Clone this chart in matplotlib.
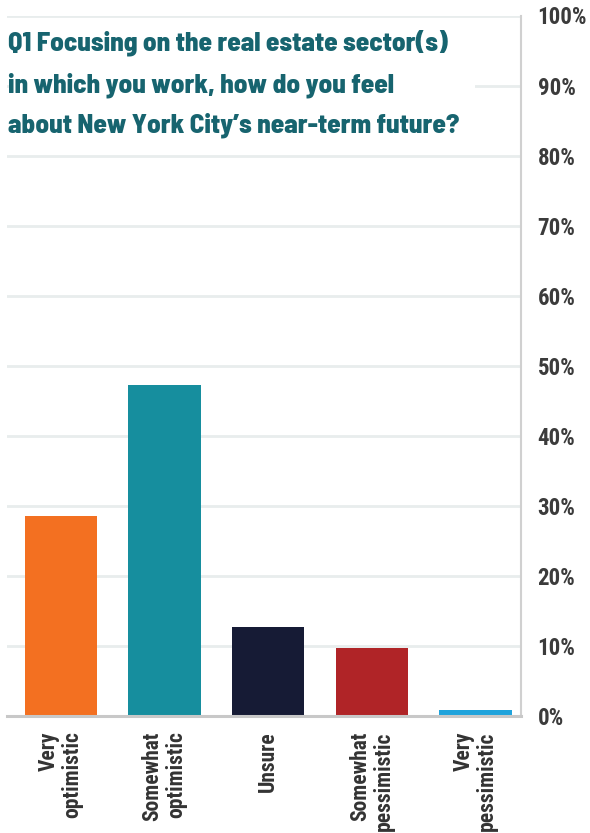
import matplotlib
matplotlib.use("Agg")
import matplotlib.pyplot as plt
from matplotlib.patches import Rectangle
from matplotlib.ticker import FuncFormatter

categories = ["Very\noptimistic", "Somewhat\noptimistic", "Unsure",
              "Somewhat\npessimistic", "Very\npessimistic"]
values = [28.6, 47.2, 12.7, 9.7, 0.8]
colors = ["#F37021", "#168E9E", "#161B35", "#B02427", "#1FA3DC"]
yticks = [0, 10, 20, 30, 40, 50, 60, 70, 80, 90, 100]
title_lines = ["Q1 Focusing on the real estate sector(s)",
               "in which you work, how do you feel",
               "about New York City\u2019s near-term future?"]

W, H = 590, 833
fig = plt.figure(figsize=(W / 100, H / 100), dpi=100)

# axes box in pixels: left 7, right 521, top 15.5, bottom 716
ax = fig.add_axes([7 / W, 1 - 716 / H, (521 - 7) / W, (716 - 15.5) / H])

ax.bar(range(len(values)), values, width=0.7, color=colors, zorder=2)

ax.set_xlim(-0.52, 4.44)
ax.set_ylim(0, 100)
ax.set_yticks(yticks)
ax.yaxis.set_major_formatter(FuncFormatter(lambda v, p: "%d%%" % v))
ax.yaxis.tick_right()
ax.grid(axis="y", color="#e8eded", linewidth=2, zorder=0)
ax.set_axisbelow(True)

for s in ["top", "left"]:
    ax.spines[s].set_visible(False)
ax.spines["right"].set_color("#d0d0d0")
ax.spines["right"].set_linewidth(1.5)
ax.spines["bottom"].set_color("#c8c8c8")
ax.spines["bottom"].set_linewidth(2.2)

ax.tick_params(axis="y", length=0, pad=12, labelsize=16.5, labelcolor="#3b3b3b")
ax.tick_params(axis="x", length=0, pad=11)
for lab in ax.get_yticklabels():
    lab.set_fontfamily("Roboto Condensed")
    lab.set_fontweight("bold")

ax.set_xticks(range(len(categories)))
ax.set_xticklabels(categories, rotation=90, ha="center", va="top",
                   multialignment="right", fontsize=15.5, fontweight="bold",
                   fontfamily="Roboto Condensed", color="#333333",
                   linespacing=1.1)

# white box behind the title, hides the gridline under it
fig.patches.append(Rectangle((11 / W, 1 - 140 / H), 464 / W, 112 / H,
                             transform=fig.transFigure, facecolor="white",
                             edgecolor="none", zorder=1))

baselines = [51, 93, 132]
for line, yb in zip(title_lines, baselines):
    fig.text(8 / W, 1 - yb / H, line, ha="left", va="baseline",
             fontsize=19.5, fontweight=800, fontfamily="Barlow Semi Condensed",
             color="#17646F", zorder=3)

fig.savefig("out.png", dpi=100)
